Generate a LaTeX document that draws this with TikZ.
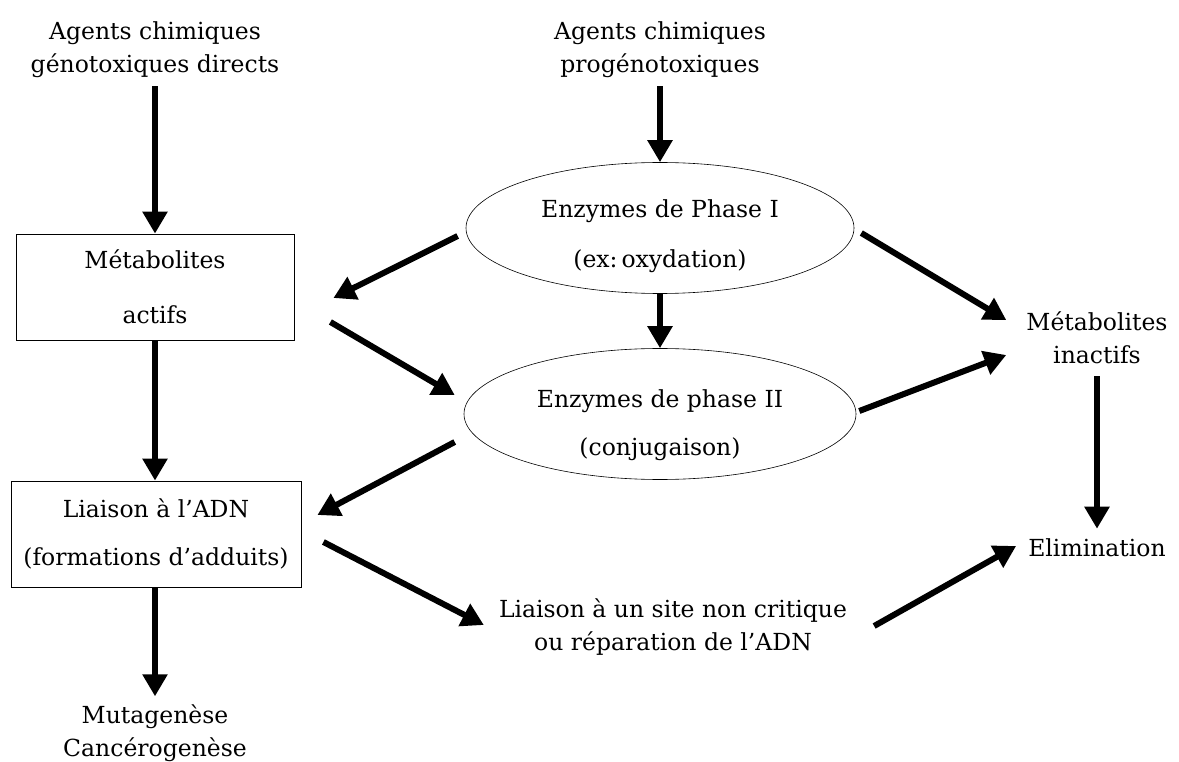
\documentclass[tikz,border=0pt]{standalone}
\usepackage{fontspec}
\setmainfont{DejaVu Serif}
\usetikzlibrary{shapes.geometric,arrows.meta}
\begin{document}
\begin{tikzpicture}[x=1pt,y=-1pt,
  lbl/.style={align=center, inner sep=0pt, font=\fontsize{23.5}{33}\selectfont},
  boxn/.style={draw, line width=0.8pt, align=center, inner sep=0pt},
  ell/.style={ellipse, draw, line width=0.6pt, inner sep=0pt},
  arr/.style={line width=6pt, -{Triangle[length=22pt,width=24pt]}}]
\useasboundingbox (0,0) rectangle (1179,762);
% nodes
\node[lbl] (t1) at (155,50) {Agents chimiques\\génotoxiques directs};
\node[lbl] (t2) at (660,50) {Agents chimiques\\progénotoxiques};
\node[boxn, minimum width=278pt, minimum height=106pt,
      font=\fontsize{23.5}{55}\selectfont] (m1) at (155,287) {Métabolites\\actifs};
\node[boxn, minimum width=290pt, minimum height=106pt,
      font=\fontsize{23.5}{48}\selectfont] (adn) at (156,534) {Liaison à l’ADN\\(formations d’adduits)};
\node[lbl] (mut) at (155,733) {Mutagenèse\\Cancérogenèse};
\node[ell, minimum width=388pt, minimum height=131pt] (e1) at (660,228) {};
\node[lbl, font=\fontsize{23.5}{50}\selectfont] (e1t) at (660,236) {Enzymes de Phase I\\(ex:\,oxydation)};
\node[ell, minimum width=392pt, minimum height=131pt] (e2) at (660,414) {};
\node[lbl, font=\fontsize{23.5}{48}\selectfont] (e2t) at (660,425) {Enzymes de phase II\\(conjugaison)};
\node[lbl] (mi) at (1097,338) {Métabolites\\inactifs};
\node[lbl] (elim) at (1097,548) {Elimination};
\node[lbl] (site) at (673,627) {Liaison à un site non critique\\ou réparation de l’ADN};
% connectors
\draw[arr] ([yshift=-8pt]t1.south) -- (m1.north);
\draw[arr] (m1.south) -- (adn.north -| m1.south);
\draw[arr] (adn.south -| mut.north) -- ([yshift=8pt]mut.north);
\draw[arr] ([yshift=-8pt]t2.south) -- (e1.north);
\draw[arr] (e1.south) -- (e2.north);
\draw[arr] ([xshift=-8pt,yshift=-8pt]e1.west) -- ([xshift=39pt,yshift=-11pt]m1.east);
\draw[arr] ([xshift=36pt,yshift=-35pt]m1.east) -- ([xshift=-9pt,yshift=19pt]e2.west);
\draw[arr] ([xshift=-9pt,yshift=-28pt]e2.west) -- ([xshift=16pt,yshift=19pt]adn.east);
\draw[arr] ([xshift=22pt,yshift=-8pt]adn.east) -- ([xshift=-15pt,yshift=2pt]site.west);
\draw[arr] ([xshift=27pt,yshift=1pt]site.east) -- ([xshift=-12pt,yshift=2pt]elim.west);
\draw[arr] ([xshift=7pt,yshift=-5pt]e1.east) -- ([xshift=-20pt,yshift=18pt]mi.west);
\draw[arr] ([xshift=3pt,yshift=3pt]e2.east) -- ([xshift=-20pt,yshift=-17pt]mi.west);
\draw[arr] ([yshift=-12pt]mi.south) -- ([yshift=10pt]elim.north);
\end{tikzpicture}
\end{document}
